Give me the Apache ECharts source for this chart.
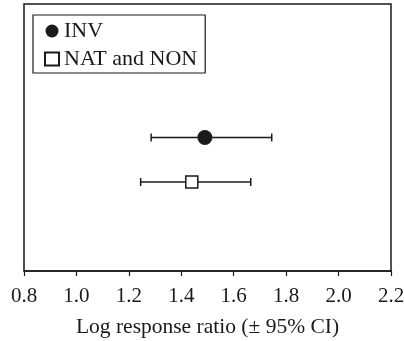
<!DOCTYPE html>
<html>
<head>
<meta charset="utf-8">
<script src="https://cdn.jsdelivr.net/npm/echarts@6/dist/echarts.min.js"></script>
<style>
html, body { margin: 0; padding: 0; background: #fff; }
#chart { width: 404px; height: 341px; }
</style>
</head>
<body>
<div id="chart"></div>
<script>
// groups
var groups = ['INV', 'NAT and NON'];
var means = [1.49, 1.44];
var lower = [1.285, 1.245];
var upper = [1.745, 1.665];
var xTicks = [0.8, 1.0, 1.2, 1.4, 1.6, 1.8, 2.0, 2.2];

var serif = "'Liberation Serif', 'DejaVu Serif', serif";
var ink = '#1a1a1a';

// hidden vertical scale: first group sits higher
function rowOf(i) { return 3 - i; }

var barData = [];
for (var i = 0; i < groups.length; i++) {
	barData.push([lower[i], upper[i], rowOf(i)]);
}

var dom = document.getElementById('chart');
var myChart = echarts.init(dom, null, { renderer: 'canvas' });
var option = {
	animation: false,
	backgroundColor: '#fff',
	grid: {
		left: 24, right: 13, top: 4, bottom: 70,
		outerBoundsMode: 'none',
		containLabel: false,
		show: true,
		borderColor: ink,
		borderWidth: 1.5
	},
	legend: {
		left: 33, top: 15,
		orient: 'vertical',
		data: groups,
		borderColor: ink,
		borderWidth: 1.2,
		padding: [5, 8, 3, 11],
		itemGap: 6,
		itemWidth: 14,
		itemHeight: 13,
		textStyle: { fontFamily: serif, fontSize: 22, color: ink }
	},
	xAxis: {
		type: 'value',
		min: xTicks[0],
		max: xTicks[xTicks.length - 1],
		interval: 0.2,
		splitLine: { show: false },
		axisLine: { lineStyle: { color: ink, width: 1.5 } },
		axisTick: { inside: false, length: 5, lineStyle: { color: ink, width: 1.2 } },
		axisLabel: {
			margin: 15,
			fontFamily: serif, fontSize: 21, color: ink,
			formatter: function (v) { return v.toFixed(1); }
		},
		name: 'Log response ratio (± 95% CI)',
		nameLocation: 'middle',
		nameGap: 45,
		nameTextStyle: { fontFamily: serif, fontSize: 21.5, color: ink }
	},
	yAxis: {
		type: 'value',
		min: 0, max: 6,
		show: false,
		splitLine: { show: false }
	},
	series: [
		{
			type: 'custom',
			name: 'ci',
			silent: true,
			data: barData,
			renderItem: function (params, api) {
				var a = api.coord([api.value(0), api.value(2)]);
				var b = api.coord([api.value(1), api.value(2)]);
				var cap = 4;
				var st = { stroke: ink, lineWidth: 1.5 };
				return {
					type: 'group',
					children: [
						{ type: 'line', shape: { x1: a[0], y1: a[1], x2: b[0], y2: b[1] }, style: st },
						{ type: 'line', shape: { x1: a[0], y1: a[1] - cap, x2: a[0], y2: a[1] + cap }, style: st },
						{ type: 'line', shape: { x1: b[0], y1: b[1] - cap, x2: b[0], y2: b[1] + cap }, style: st }
					]
				};
			},
			z: 2
		},
		{
			type: 'scatter',
			name: groups[0],
			symbol: 'circle',
			symbolSize: 15,
			data: [[means[0], rowOf(0)]],
			itemStyle: { color: ink, opacity: 1 },
			z: 3
		},
		{
			type: 'scatter',
			name: groups[1],
			symbol: 'rect',
			symbolSize: 12,
			data: [[means[1], rowOf(1)]],
			itemStyle: { color: '#fff', borderColor: ink, borderWidth: 1.5, opacity: 1 },
			z: 3
		}
	]
};
myChart.setOption(option, true);
</script>
</body>
</html>
